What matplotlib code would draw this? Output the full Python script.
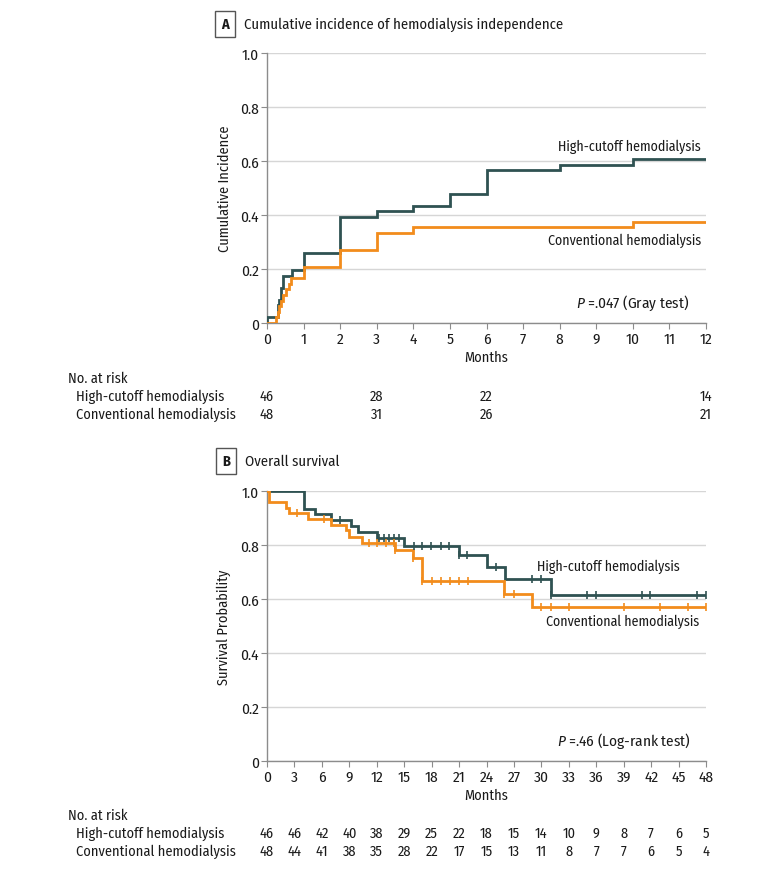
import matplotlib
matplotlib.use('Agg')
import matplotlib.pyplot as plt
from matplotlib import font_manager as fm
from matplotlib.transforms import blended_transform_factory

# ---------------- data ----------------
# Panel A: cumulative incidence of hemodialysis independence
a_high_months = [0, 0.29, 0.34, 0.39, 0.44, 0.68, 1, 2, 3, 4, 5, 6, 8, 10]
a_high_inc = [0.022, 0.065, 0.087, 0.130, 0.174, 0.196, 0.261, 0.391, 0.413, 0.435, 0.478, 0.565, 0.587, 0.609]
a_conv_months = [0.25, 0.30, 0.34, 0.39, 0.44, 0.53, 0.60, 0.65, 1, 2, 3, 4, 10]
a_conv_inc = [0.021, 0.042, 0.063, 0.083, 0.104, 0.125, 0.146, 0.167, 0.208, 0.271, 0.333, 0.354, 0.375]
a_risk_months = [0, 3, 6, 12]
a_risk_high = [46, 28, 22, 14]
a_risk_conv = [48, 31, 26, 21]
a_xticks = list(range(0, 13))

# Panel B: overall survival
b_high_months = [4.0, 4.1, 5.3, 7.0, 9.2, 10.0, 12.0, 15.0, 21.0, 24.0, 26.0, 31.0]
b_high_surv = [0.957, 0.935, 0.913, 0.891, 0.870, 0.848, 0.826, 0.797, 0.763, 0.717, 0.674, 0.616]
b_high_cens = [8.0, 12.2, 12.8, 13.3, 13.9, 14.4, 16.1, 17.0, 17.9, 19.0, 19.9, 21.0, 21.9,
               25.0, 29.0, 30.0, 31.0, 35.0, 36.0, 41.0, 41.9, 47.0, 48.0]
b_conv_months = [0.2, 2.1, 2.4, 4.5, 7.0, 8.6, 9.0, 10.4, 14.0, 16.0, 17.0, 25.9, 29.0]
b_conv_surv = [0.958, 0.938, 0.917, 0.896, 0.875, 0.854, 0.830, 0.806, 0.780, 0.752, 0.665, 0.620, 0.571]
b_conv_cens = [3.3, 6.2, 11.1, 12.0, 13.0, 13.9, 14.0, 16.0, 17.0, 18.0, 19.0, 20.0, 21.0, 22.0,
               25.9, 27.0, 30.0, 31.0, 33.0, 39.0, 43.0, 46.0, 48.0]
b_risk_months = list(range(0, 49, 3))
b_risk_high = [46, 46, 42, 40, 38, 29, 25, 22, 18, 15, 14, 10, 9, 8, 7, 6, 5]
b_risk_conv = [48, 44, 41, 38, 35, 28, 22, 17, 15, 13, 11, 8, 7, 7, 6, 5, 4]

y_ticks = [0, 0.2, 0.4, 0.6, 0.8, 1.0]
y_ticklabels = ['0', '0.2', '0.4', '0.6', '0.8', '1.0']

# ---------------- style ----------------
names = {f.name for f in fm.fontManager.ttflist}
FONT = 'DejaVu Sans'
for cand in ['Fira Sans Condensed', 'Open Sans Condensed', 'Barlow Semi Condensed',
             'Asap Condensed', 'Liberation Sans Narrow', 'Lato']:
    if cand in names:
        FONT = cand
        break
plt.rcParams['font.family'] = [FONT, 'DejaVu Sans']
plt.rcParams['mathtext.fontset'] = 'custom'
plt.rcParams['mathtext.it'] = FONT + ':italic'
plt.rcParams['mathtext.rm'] = FONT

TEAL = '#2f5252'
ORANGE = '#f28c1c'
TXT = '#1a1a1a'
SPINE = '#8c8c8c'
GRID = '#d6d6d6'
FS = 10.3      # risk table / axis labels
FS_ANN = 10.0  # curve labels
FS_TICK = 11.0
FS_TITLE = 10.3

W, H = 780, 870
fig = plt.figure(figsize=(W / 100, H / 100), dpi=100)


def fx(x):
    return x / W


def fy(y):
    return 1 - y / H


def make_axes(left, top, right, bottom):
    ax = fig.add_axes([fx(left), fy(bottom), fx(right - left), (bottom - top) / H])
    for s in ['top', 'right']:
        ax.spines[s].set_visible(False)
    for s in ['left', 'bottom']:
        ax.spines[s].set_color(SPINE)
        ax.spines[s].set_linewidth(1.0)
    ax.tick_params(direction='out', length=4, width=0.8, color=SPINE, labelsize=FS_TICK,
                   labelcolor=TXT, pad=2)
    ax.set_ylim(0, 1.0)
    ax.set_yticks(y_ticks)
    ax.set_yticklabels(y_ticklabels)
    ax.yaxis.grid(True, color=GRID, linewidth=1.0)
    ax.set_axisbelow(True)
    return ax


def step_line(ax, months, vals, start, end, color):
    xs = [0] + list(months) + [end]
    ys = [start] + list(vals) + [vals[-1]]
    ax.step(xs, ys, where='post', color=color, linewidth=2.0, solid_joinstyle='miter', zorder=3)


def surv_at(months, vals, t):
    v = 1.0
    for m, s in zip(months, vals):
        if m <= t:
            v = s
    return v


def title_box(x, y, letter, text):
    fig.text(fx(x), fy(y), letter, fontsize=FS_TITLE, fontweight='bold', color=TXT,
             ha='center', va='center',
             bbox=dict(boxstyle='square,pad=0.4', fc='white', ec='#555555', lw=1.0))
    fig.text(fx(x + 19), fy(y), text, fontsize=FS_TITLE + 0.3, color=TXT, ha='left', va='center')


def risk_table(ax, months, high, conv, y_head, y1, y2):
    fig.text(fx(68), fy(y_head), 'No. at risk', fontsize=FS, color=TXT, ha='left', va='center')
    fig.text(fx(76), fy(y1), 'High-cutoff hemodialysis', fontsize=FS, color=TXT, ha='left', va='center')
    fig.text(fx(76), fy(y2), 'Conventional hemodialysis', fontsize=FS, color=TXT, ha='left', va='center')
    tr = blended_transform_factory(ax.transData, fig.transFigure)
    for m, h, c in zip(months, high, conv):
        ax.text(m, fy(y1), str(h), transform=tr, fontsize=FS, color=TXT, ha='center', va='center')
        ax.text(m, fy(y2), str(c), transform=tr, fontsize=FS, color=TXT, ha='center', va='center')


# ---------------- panel A ----------------
axA = make_axes(267, 54, 706, 324)
axA.set_xlim(0, 12)
axA.set_xticks(a_xticks)
step_line(axA, a_high_months, a_high_inc, 0, 12, TEAL)
step_line(axA, a_conv_months, a_conv_inc, 0, 12, ORANGE)
axA.set_ylabel('Cumulative Incidence', fontsize=FS, color=TXT, labelpad=6)
axA.set_xlabel('Months', fontsize=FS, color=TXT, labelpad=3)
trA = blended_transform_factory(axA.transAxes, fig.transFigure)
axA.text(0.989, fy(147), 'High-cutoff hemodialysis', transform=trA, fontsize=FS_ANN,
         color=TXT, ha='right', va='center')
axA.text(0.989, fy(241), 'Conventional hemodialysis', transform=trA, fontsize=FS_ANN,
         color=TXT, ha='right', va='center')
axA.text(0.962, fy(303), r'$\mathit{P}$ =.047 (Gray test)', transform=trA, fontsize=11,
         color=TXT, ha='right', va='center')
title_box(225, 25, 'A', 'Cumulative incidence of hemodialysis independence')
risk_table(axA, a_risk_months, a_risk_high, a_risk_conv, 379, 397, 415)

# ---------------- panel B ----------------
axB = make_axes(267, 492, 706, 762)
axB.set_xlim(0, 48)
axB.set_xticks(b_risk_months)
step_line(axB, b_high_months, b_high_surv, 1.0, 48, TEAL)
step_line(axB, b_conv_months, b_conv_surv, 1.0, 48, ORANGE)
axB.plot(b_high_cens, [surv_at(b_high_months, b_high_surv, t) for t in b_high_cens],
         linestyle='none', marker='|', markersize=6, markeredgewidth=1.2, color=TEAL, zorder=4)
axB.plot(b_conv_cens, [surv_at(b_conv_months, b_conv_surv, t) for t in b_conv_cens],
         linestyle='none', marker='|', markersize=6, markeredgewidth=1.2, color=ORANGE, zorder=4)
axB.set_ylabel('Survival Probability', fontsize=FS, color=TXT, labelpad=6)
axB.set_xlabel('Months', fontsize=FS, color=TXT, labelpad=3)
trB = blended_transform_factory(axB.transData, fig.transFigure)
axB.text(29.5, fy(567), 'High-cutoff hemodialysis', transform=trB, fontsize=FS_ANN,
         color=TXT, ha='left', va='center')
axB.text(30.5, fy(622), 'Conventional hemodialysis', transform=trB, fontsize=FS_ANN,
         color=TXT, ha='left', va='center')
axB.text(46.4, fy(741), r'$\mathit{P}$ =.46 (Log-rank test)', transform=trB, fontsize=11,
         color=TXT, ha='right', va='center')
title_box(226, 462, 'B', 'Overall survival')
risk_table(axB, b_risk_months, b_risk_high, b_risk_conv, 816, 834, 852)

fig.savefig('out.png', dpi=100, facecolor='white')
